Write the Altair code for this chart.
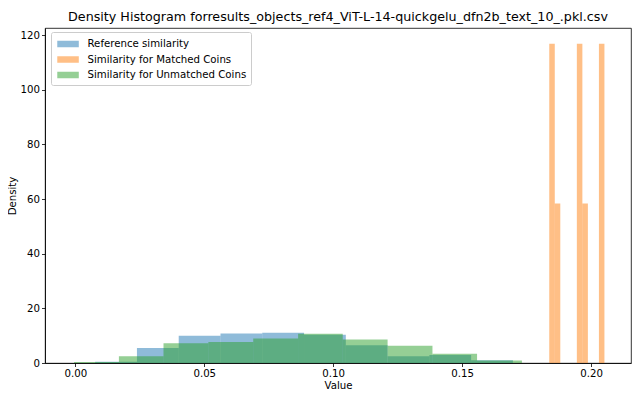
import altair as alt
import pandas as pd

# ---- data (bin edges and density heights) ----
series_names = ["Reference similarity", "Similarity for Matched Coins", "Similarity for Unmatched Coins"]
series_colors = ["#1f77b4", "#ff7f0e", "#2ca02c"]

blue_edges = [0.0077, 0.0239, 0.0401, 0.0563, 0.0725, 0.0887, 0.1049, 0.1211, 0.1373, 0.1535, 0.1697]
blue_density = [0.5, 5.5, 10.0, 10.8, 11.1, 10.3, 6.5, 2.5, 2.9, 1.0]

orange_edges = [0.1838, 0.18594, 0.18808, 0.19022, 0.19236, 0.1945, 0.19664, 0.19878, 0.20092, 0.20306, 0.2052]
orange_density = [116.8, 58.4, 0, 0, 0, 116.8, 58.4, 0, 0, 116.8]

green_edges = [-0.0005, 0.0169, 0.0342, 0.0516, 0.0690, 0.0864, 0.1037, 0.1211, 0.1385, 0.1558, 0.1732]
green_density = [0.4, 2.5, 7.2, 7.7, 9.0, 10.7, 8.6, 6.3, 3.4, 0.9]

x_ticks = [0.0, 0.05, 0.10, 0.15, 0.20]
y_ticks = [0, 20, 40, 60, 80, 100, 120]
x_domain = [-0.01176, 0.2155]
y_domain = [0, 122.6]

title_text = "Density Histogram forresults_objects_ref4_ViT-L-14-quickgelu_dfn2b_text_10_.pkl.csv"

rows = []
order = 0
for name, edges, dens in [
    (series_names[0], blue_edges, blue_density),
    (series_names[1], orange_edges, orange_density),
    (series_names[2], green_edges, green_density),
]:
    for i, d in enumerate(dens):
        rows.append({"series": name, "x0": edges[i], "x1": edges[i + 1], "density": d, "ord": order})
        order += 1
df = pd.DataFrame(rows)

FONT = "DejaVu Sans"
SMALL = 10.2

chart = (
    alt.Chart(df)
    .mark_rect(opacity=0.5)
    .encode(
        x=alt.X(
            "x0:Q",
            scale=alt.Scale(domain=x_domain, nice=False, zero=False),
            axis=alt.Axis(values=x_ticks, format=".2f", title="Value", titlePadding=2),
        ),
        x2="x1:Q",
        y=alt.Y(
            "density:Q",
            scale=alt.Scale(domain=y_domain, nice=False),
            axis=alt.Axis(values=y_ticks, format="d", title="Density", titlePadding=3),
        ),
        y2=alt.Y2(datum=0),
        color=alt.Color(
            "series:N",
            scale=alt.Scale(domain=series_names, range=series_colors),
            legend=alt.Legend(
                title=None,
                orient="none",
                legendX=6,
                legendY=4,
                symbolType="M-0.74,-0.42H2.04V0.42H-0.74Z",
                symbolSize=240,
                symbolOpacity=0.5,
                symbolStrokeWidth=0,
                labelFont=FONT,
                labelFontSize=SMALL,
                labelColor="black",
                labelOffset=16.5,
                rowPadding=1.5,
                padding=4,
                fillColor="white",
                strokeColor="#cccccc",
                cornerRadius=2,
            ),
        ),
        order=alt.Order("ord:Q"),
    )
    .properties(
        width=586,
        height=335,
        title=alt.TitleParams(
            title_text, font=FONT, fontSize=12.7, fontWeight="normal", color="black",
            anchor="middle", offset=4,
        ),
        autosize=alt.AutoSizeParams(type="none"),
        padding={"left": 37, "top": 20, "right": 1, "bottom": 33},
    )
    .configure_view(stroke="black", strokeWidth=0.8)
    .configure_axis(
        grid=False,
        domainColor="black",
        domainWidth=0.8,
        tickColor="black",
        tickWidth=0.8,
        tickSize=3.5,
        labelFont=FONT,
        labelFontSize=SMALL,
        labelColor="black",
        labelPadding=2,
        titleFont=FONT,
        titleFontSize=SMALL,
        titleFontWeight="normal",
        titleColor="black",
    )
)

chart.save("out.html", embed_options={"renderer": "svg", "actions": False})
